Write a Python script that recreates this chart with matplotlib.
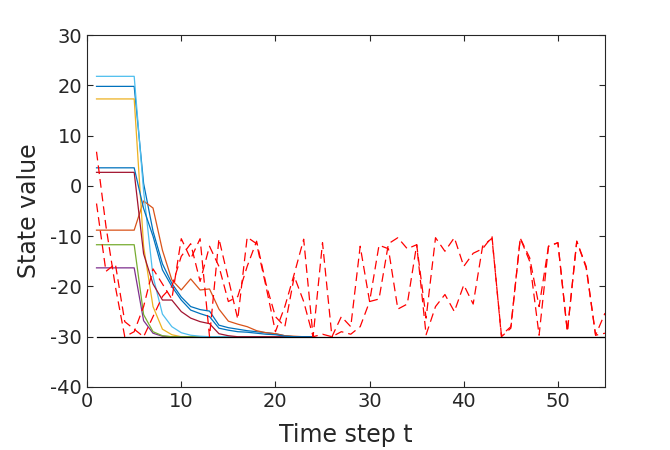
import numpy as np
import matplotlib
matplotlib.use("Agg")
import matplotlib.pyplot as plt

plt.rcParams["axes.unicode_minus"] = False
plt.rcParams["font.family"] = "DejaVu Sans"

# time steps
t_all = np.arange(1, 56)
t_conv = np.arange(1, 25)

# converging agent states (t = 1..24)
light_blue = [21.8, 21.8, 21.8, 21.8, 21.8, -1.0, -18.0, -25.5, -28.0, -29.2, -29.7, -29.9,
              -30, -30, -30, -30, -30, -30, -30, -30, -30, -30, -30, -30]
blue_top = [19.8, 19.8, 19.8, 19.8, 19.8, 0.5, -9.0, -15.5, -19.4, -22.1, -24.0, -24.6,
            -24.9, -27.7, -28.2, -28.5, -28.8, -29.0, -29.2, -29.4, -29.8, -30, -30, -30]
yellow = [17.3, 17.3, 17.3, 17.3, 17.3, -12.0, -24.0, -28.5, -29.6, -30, -30, -30,
          -30, -30, -30, -30, -30, -30, -30, -30, -30, -30, -30, -30]
blue_mid = [3.6, 3.6, 3.6, 3.6, 3.6, -4.5, -10.0, -16.7, -20.0, -22.7, -24.7, -25.4,
            -26.0, -28.3, -28.7, -29.0, -29.1, -29.3, -29.5, -29.6, -29.9, -30, -30, -30]
dark_red = [2.7, 2.7, 2.7, 2.7, 2.7, -13.5, -19.5, -22.7, -22.7, -25.0, -26.3, -27.0,
            -27.4, -29.4, -29.8, -30, -30, -30, -30, -30, -30, -30, -30, -30]
orange = [-8.8, -8.8, -8.8, -8.8, -8.8, -3.0, -4.4, -12.8, -18.7, -20.7, -18.5, -20.7,
          -20.5, -24.5, -26.9, -27.5, -28.0, -28.8, -29.2, -29.4, -29.8, -29.9, -30, -30]
green = [-11.7, -11.7, -11.7, -11.7, -11.7, -25.6, -29.0, -29.8, -30, -30, -30, -30,
         -30, -30, -30, -30, -30, -30, -30, -30, -30, -30, -30, -30]
purple = [-16.3, -16.3, -16.3, -16.3, -16.3, -26.8, -29.3, -29.9, -30, -30, -30, -30,
          -30, -30, -30, -30, -30, -30, -30, -30, -30, -30, -30, -30]

# noisy (red dashed) states, t = 1..55
noisy_a = [6.8, -8.0, -20.0, -30.0, -29.0, -24.0, -16.5, -19.5, -22.5, -10.5,
           -14.5, -10.5, -30.0, -10.5, -18.5, -26.5, -10.2, -11.5, -20.0, -29.0,
           -24.0, -17.5, -10.6, -30.0, -11.3, -30.0, -26.0, -28.0, -12.0, -23.0,
           -11.8, -12.5, -24.5, -23.5, -11.7, -26.3, -10.3, -13.0, -10.3, -16.0,
           -13.4, -12.5, -10.1, -30.0, -28.3, -10.4, -15.0, -29.7, -12.0, -11.3,
           -29.0, -11.0, -16.3, -29.7, -25.3]
noisy_b = [-3.5, -17.0, -15.5, -27.0, -28.5, -30.0, -26.0, -22.0, -20.0, -14.0,
           -11.5, -19.0, -12.0, -16.0, -23.0, -22.0, -16.0, -11.0, -19.5, -26.0,
           -28.0, -18.0, -23.0, -30.0, -29.5, -30.0, -29.0, -29.5, -28.0, -23.0,
           -22.5, -11.5, -10.3, -12.5, -11.7, -29.6, -24.0, -21.6, -25.0, -19.7,
           -23.5, -12.0, -10.4, -29.7, -28.0, -10.4, -14.3, -24.0, -12.0, -11.3,
           -29.0, -11.0, -16.0, -29.7, -29.3]

target = -30

series = [
    (blue_top, "#0072BD"),
    (orange, "#D95319"),
    (yellow, "#EDB120"),
    (purple, "#7E2F8E"),
    (green, "#77AC30"),
    (light_blue, "#4DBEEE"),
    (dark_red, "#A2142F"),
    (blue_mid, "#0072BD"),
]

fig = plt.figure(figsize=(6.7, 4.5), dpi=100)
ax = fig.add_axes([0.13, 0.14, 0.773, 0.782])

for vals, col in series:
    ax.plot(t_conv, vals, color=col, lw=0.9)

for vals in (noisy_a, noisy_b):
    ax.plot(t_all, vals, color="red", lw=0.9, dashes=(7, 4))

ax.plot(t_all, np.full(len(t_all), target), color="black", lw=0.9)

ax.set_xlim(0, 55)
ax.set_ylim(-40, 30)
ax.set_xticks(np.arange(0, 51, 10))
ax.set_yticks(np.arange(-40, 31, 10))
ax.tick_params(direction="in", top=True, right=True, labelsize=14,
               colors="#262626", length=4, width=0.8)
for s in ax.spines.values():
    s.set_color("#262626")
    s.set_linewidth(0.8)

ax.set_xlabel("Time step t", fontsize=17, color="#262626", labelpad=9)
ax.set_ylabel("State value", fontsize=17, color="#262626", labelpad=7)

fig.savefig("out.png", dpi=100)
